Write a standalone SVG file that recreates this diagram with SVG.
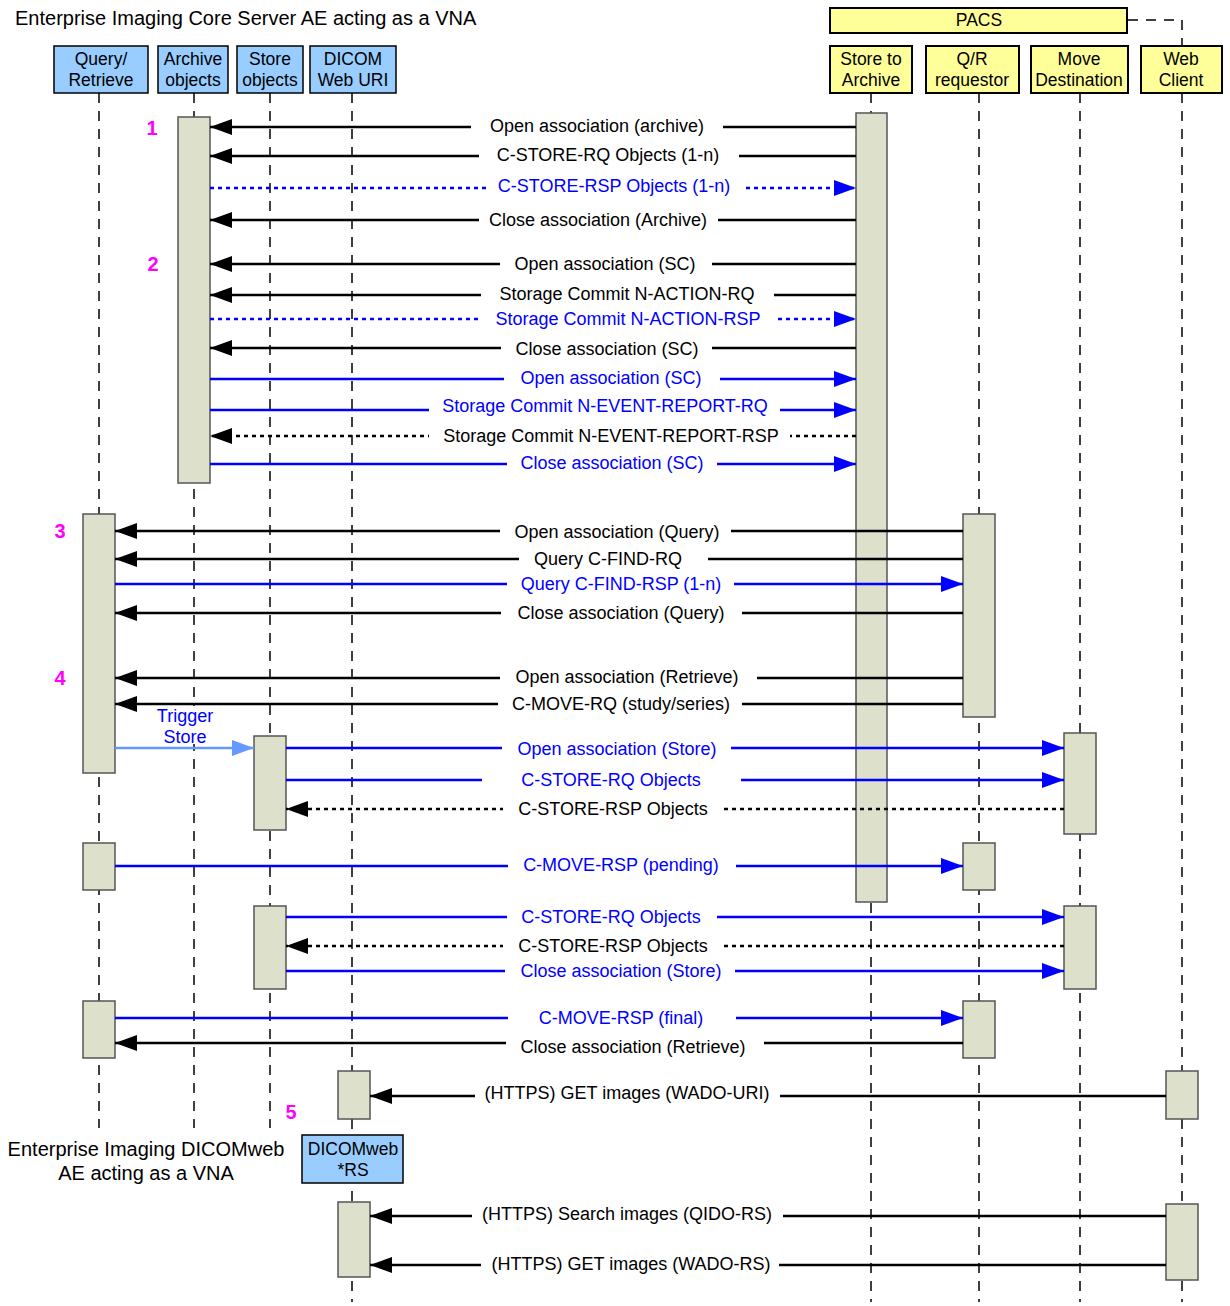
<svg xmlns="http://www.w3.org/2000/svg" width="1230" height="1306" viewBox="0 0 1230 1306">
<style>
text{font-family:"Liberation Sans",Arial,sans-serif;font-size:17.5px;fill:#000}
.c{text-anchor:middle}
.lbl{font-size:18px}
.ttl{font-size:20px}
.b{fill:#0000FF}
.num{fill:#FF00FF;font-weight:bold;font-size:20px}
.hb{fill:#99CCFF;stroke:#000;stroke-width:1.5}
.hy{fill:#FFFF99;stroke:#000;stroke-width:2}
.act{fill:#DDE1CC;stroke:#555;stroke-width:1.5}
.life{stroke:#000;stroke-width:1.5;stroke-dasharray:10,8;fill:none}
.k{stroke:#000;stroke-width:2.5;fill:none}
.kd{stroke:#000;stroke-width:2.5;stroke-dasharray:4,4;fill:none}
.bl{stroke:#0000FF;stroke-width:2.5;fill:none}
.bd{stroke:#0000FF;stroke-width:2.5;stroke-dasharray:4,4;fill:none}
.lb{stroke:#6699FF;stroke-width:2.5;fill:none}
.gap{fill:#fff}
</style>
<defs>
<marker id="ak" markerUnits="userSpaceOnUse" markerWidth="22" markerHeight="16" refX="22" refY="8" orient="auto"><path d="M0,0 L22,8 L0,16 z" fill="#000"/></marker>
<marker id="ab" markerUnits="userSpaceOnUse" markerWidth="22" markerHeight="16" refX="22" refY="8" orient="auto"><path d="M0,0 L22,8 L0,16 z" fill="#0000FF"/></marker>
<marker id="alb" markerUnits="userSpaceOnUse" markerWidth="22" markerHeight="16" refX="22" refY="8" orient="auto"><path d="M0,0 L22,8 L0,16 z" fill="#6699FF"/></marker>
</defs>
<rect width="1230" height="1306" fill="#fff"/>
<text class="ttl" x="15" y="25">Enterprise Imaging Core Server AE acting as a VNA</text>
<text class="c ttl" x="146" y="1156">Enterprise Imaging DICOMweb</text>
<text class="c ttl" x="146" y="1180">AE acting as a VNA</text>

<g id="lifelines">
<line class="life" x1="99" y1="93" x2="99" y2="1128"/>
<line class="life" x1="194" y1="93" x2="194" y2="1128"/>
<line class="life" x1="270" y1="93" x2="270" y2="1128"/>
<line class="life" x1="352" y1="93" x2="352" y2="1302"/>
<line class="life" x1="871" y1="93" x2="871" y2="1302"/>
<line class="life" x1="979" y1="93" x2="979" y2="1302"/>
<line class="life" x1="1080" y1="93" x2="1080" y2="1302"/>
<line class="life" x1="1182" y1="93" x2="1182" y2="1302"/>
<path class="life" d="M1128,20 H1182 V46"/>
</g>

<g id="pacs"><rect class="hy" x="830" y="8" width="297" height="25"/><text class="c" x="979" y="26">PACS</text></g>
<g id="h-qr"><rect class="hb" x="54" y="46" width="94" height="47"/><text class="c" x="101" y="65">Query/</text><text class="c" x="101" y="86">Retrieve</text></g>
<g id="h-archive"><rect class="hb" x="158" y="46" width="70" height="47"/><text class="c" x="193" y="65">Archive</text><text class="c" x="193" y="86">objects</text></g>
<g id="h-store"><rect class="hb" x="237" y="46" width="66" height="47"/><text class="c" x="270" y="65">Store</text><text class="c" x="270" y="86">objects</text></g>
<g id="h-uri"><rect class="hb" x="310" y="46" width="86" height="47"/><text class="c" x="353" y="65">DICOM</text><text class="c" x="353" y="86">Web URI</text></g>
<g id="h-sta"><rect class="hy" x="830" y="46" width="82" height="47"/><text class="c" x="871" y="65">Store to</text><text class="c" x="871" y="86">Archive</text></g>
<g id="h-qrr"><rect class="hy" x="926" y="46" width="93" height="47"/><text class="c" x="972" y="65">Q/R</text><text class="c" x="972" y="86">requestor</text></g>
<g id="h-move"><rect class="hy" x="1031" y="46" width="97" height="47"/><text class="c" x="1079" y="65">Move</text><text class="c" x="1079" y="86">Destination</text></g>
<g id="h-web"><rect class="hy" x="1141" y="46" width="81" height="47"/><text class="c" x="1181" y="65">Web</text><text class="c" x="1181" y="86">Client</text></g>
<g id="h-rs"><rect class="hb" x="302" y="1135" width="101" height="48"/><text class="c" x="353" y="1155">DICOMweb</text><text class="c" x="353" y="1176">*RS</text></g>

<g id="activations">
<rect class="act" x="178" y="117" width="32" height="366"/>
<rect class="act" x="856" y="113" width="31" height="789"/>
<rect class="act" x="83" y="514" width="32" height="259"/>
<rect class="act" x="963" y="514" width="32" height="203"/>
<rect class="act" x="254" y="736" width="32" height="94"/>
<rect class="act" x="1064" y="733" width="32" height="101"/>
<rect class="act" x="83" y="843" width="32" height="47"/>
<rect class="act" x="963" y="843" width="32" height="47"/>
<rect class="act" x="254" y="906" width="32" height="83"/>
<rect class="act" x="1064" y="906" width="32" height="83"/>
<rect class="act" x="83" y="1001" width="32" height="57"/>
<rect class="act" x="963" y="1001" width="32" height="57"/>
<rect class="act" x="338" y="1071" width="32" height="48"/>
<rect class="act" x="1166" y="1071" width="32" height="48"/>
<rect class="act" x="338" y="1202" width="32" height="75"/>
<rect class="act" x="1166" y="1204" width="32" height="76"/>
</g>

<g id="numbers">
<text class="num" x="152" y="135" text-anchor="middle">1</text>
<text class="num" x="153" y="271" text-anchor="middle">2</text>
<text class="num" x="60" y="538" text-anchor="middle">3</text>
<text class="num" x="60" y="685" text-anchor="middle">4</text>
<text class="num" x="291" y="1119" text-anchor="middle">5</text>
</g>

<g id="connectors" class="lbl">
<line class="k" x1="856" y1="127" x2="210" y2="127" marker-end="url(#ak)"/><rect class="gap" x="471" y="122" width="252" height="10"/><text class="c lbl" x="597" y="132">Open association (archive)</text>
<line class="k" x1="856" y1="156" x2="210" y2="156" marker-end="url(#ak)"/><rect class="gap" x="479" y="151" width="260" height="10"/><text class="c lbl" x="608" y="161">C-STORE-RQ Objects (1-n)</text>
<line class="bd" x1="210" y1="188" x2="856" y2="188" marker-end="url(#ab)"/><rect class="gap" x="489" y="183" width="253" height="10"/><text class="c b lbl" x="614" y="192">C-STORE-RSP Objects (1-n)</text>
<line class="k" x1="856" y1="220" x2="210" y2="220" marker-end="url(#ak)"/><rect class="gap" x="479" y="215" width="239" height="10"/><text class="c lbl" x="598" y="226">Close association (Archive)</text>
<line class="k" x1="856" y1="264" x2="210" y2="264" marker-end="url(#ak)"/><rect class="gap" x="500" y="259" width="212" height="10"/><text class="c lbl" x="605" y="270">Open association (SC)</text>
<line class="k" x1="856" y1="295" x2="210" y2="295" marker-end="url(#ak)"/><rect class="gap" x="481" y="290" width="293" height="10"/><text class="c lbl" x="627" y="300">Storage Commit N-ACTION-RQ</text>
<line class="bd" x1="210" y1="319" x2="856" y2="319" marker-end="url(#ab)"/><rect class="gap" x="481" y="314" width="295" height="10"/><text class="c b lbl" x="628" y="325">Storage Commit N-ACTION-RSP</text>
<line class="k" x1="856" y1="348" x2="210" y2="348" marker-end="url(#ak)"/><rect class="gap" x="501" y="343" width="211" height="10"/><text class="c lbl" x="607" y="355">Close association (SC)</text>
<line class="bl" x1="210" y1="379" x2="856" y2="379" marker-end="url(#ab)"/><rect class="gap" x="504" y="374" width="216" height="10"/><text class="c b lbl" x="611" y="384">Open association (SC)</text>
<line class="bl" x1="210" y1="410" x2="856" y2="410" marker-end="url(#ab)"/><rect class="gap" x="429" y="405" width="351" height="10"/><text class="c b lbl" x="605" y="412">Storage Commit N-EVENT-REPORT-RQ</text>
<line class="kd" x1="856" y1="436" x2="210" y2="436" marker-end="url(#ak)"/><rect class="gap" x="429" y="431" width="361" height="10"/><text class="c lbl" x="611" y="442">Storage Commit N-EVENT-REPORT-RSP</text>
<line class="bl" x1="210" y1="464" x2="856" y2="464" marker-end="url(#ab)"/><rect class="gap" x="507" y="459" width="210" height="10"/><text class="c b lbl" x="612" y="469">Close association (SC)</text>

<line class="k" x1="963" y1="531" x2="115" y2="531" marker-end="url(#ak)"/><rect class="gap" x="500" y="526" width="231" height="10"/><text class="c lbl" x="617" y="538">Open association (Query)</text>
<line class="k" x1="963" y1="559" x2="115" y2="559" marker-end="url(#ak)"/><rect class="gap" x="519" y="554" width="189" height="10"/><text class="c lbl" x="608" y="565">Query C-FIND-RQ</text>
<line class="bl" x1="115" y1="584" x2="963" y2="584" marker-end="url(#ab)"/><rect class="gap" x="507" y="579" width="227" height="10"/><text class="c b lbl" x="621" y="590">Query C-FIND-RSP (1-n)</text>
<line class="k" x1="963" y1="613" x2="115" y2="613" marker-end="url(#ak)"/><rect class="gap" x="501" y="608" width="241" height="10"/><text class="c lbl" x="621" y="619">Close association (Query)</text>
<line class="k" x1="963" y1="678" x2="115" y2="678" marker-end="url(#ak)"/><rect class="gap" x="500" y="673" width="257" height="10"/><text class="c lbl" x="627" y="683">Open association (Retrieve)</text>
<line class="k" x1="963" y1="704" x2="115" y2="704" marker-end="url(#ak)"/><rect class="gap" x="498" y="699" width="244" height="10"/><text class="c lbl" x="621" y="710">C-MOVE-RQ (study/series)</text>

<rect class="gap" x="152" y="706" width="66" height="38"/>
<line class="lb" x1="115" y1="748" x2="254" y2="748" marker-end="url(#alb)"/><text class="c b lbl" x="185" y="722">Trigger</text><text class="c b lbl" x="185" y="743">Store</text>
<line class="bl" x1="286" y1="748" x2="1064" y2="748" marker-end="url(#ab)"/><rect class="gap" x="502" y="743" width="229" height="10"/><text class="c b lbl" x="617" y="755">Open association (Store)</text>
<line class="bl" x1="286" y1="780" x2="1064" y2="780" marker-end="url(#ab)"/><rect class="gap" x="482" y="775" width="259" height="10"/><text class="c b lbl" x="611" y="786">C-STORE-RQ Objects</text>
<line class="kd" x1="1064" y1="809" x2="286" y2="809" marker-end="url(#ak)"/><rect class="gap" x="503" y="804" width="220" height="10"/><text class="c lbl" x="613" y="815">C-STORE-RSP Objects</text>
<line class="bl" x1="115" y1="866" x2="963" y2="866" marker-end="url(#ab)"/><rect class="gap" x="508" y="861" width="228" height="10"/><text class="c b lbl" x="621" y="871">C-MOVE-RSP (pending)</text>
<line class="bl" x1="286" y1="917" x2="1064" y2="917" marker-end="url(#ab)"/><rect class="gap" x="507" y="912" width="210" height="10"/><text class="c b lbl" x="611" y="923">C-STORE-RQ Objects</text>
<line class="kd" x1="1064" y1="946" x2="286" y2="946" marker-end="url(#ak)"/><rect class="gap" x="503" y="941" width="220" height="10"/><text class="c lbl" x="613" y="952">C-STORE-RSP Objects</text>
<line class="bl" x1="286" y1="971" x2="1064" y2="971" marker-end="url(#ab)"/><rect class="gap" x="505" y="966" width="230" height="10"/><text class="c b lbl" x="621" y="977">Close association (Store)</text>
<line class="bl" x1="115" y1="1018" x2="963" y2="1018" marker-end="url(#ab)"/><rect class="gap" x="508" y="1013" width="228" height="10"/><text class="c b lbl" x="621" y="1024">C-MOVE-RSP (final)</text>
<line class="k" x1="963" y1="1043" x2="115" y2="1043" marker-end="url(#ak)"/><rect class="gap" x="506" y="1038" width="258" height="10"/><text class="c lbl" x="633" y="1053">Close association (Retrieve)</text>
<line class="k" x1="1166" y1="1096" x2="370" y2="1096" marker-end="url(#ak)"/><rect class="gap" x="475" y="1091" width="305" height="10"/><text class="c lbl" x="627" y="1099">(HTTPS) GET images (WADO-URI)</text>
<line class="k" x1="1166" y1="1216" x2="370" y2="1216" marker-end="url(#ak)"/><rect class="gap" x="472" y="1211" width="311" height="10"/><text class="c lbl" x="627" y="1220">(HTTPS) Search images (QIDO-RS)</text>
<line class="k" x1="1166" y1="1265" x2="370" y2="1265" marker-end="url(#ak)"/><rect class="gap" x="481" y="1260" width="298" height="10"/><text class="c lbl" x="631" y="1270">(HTTPS) GET images (WADO-RS)</text>
</g>
</svg>
